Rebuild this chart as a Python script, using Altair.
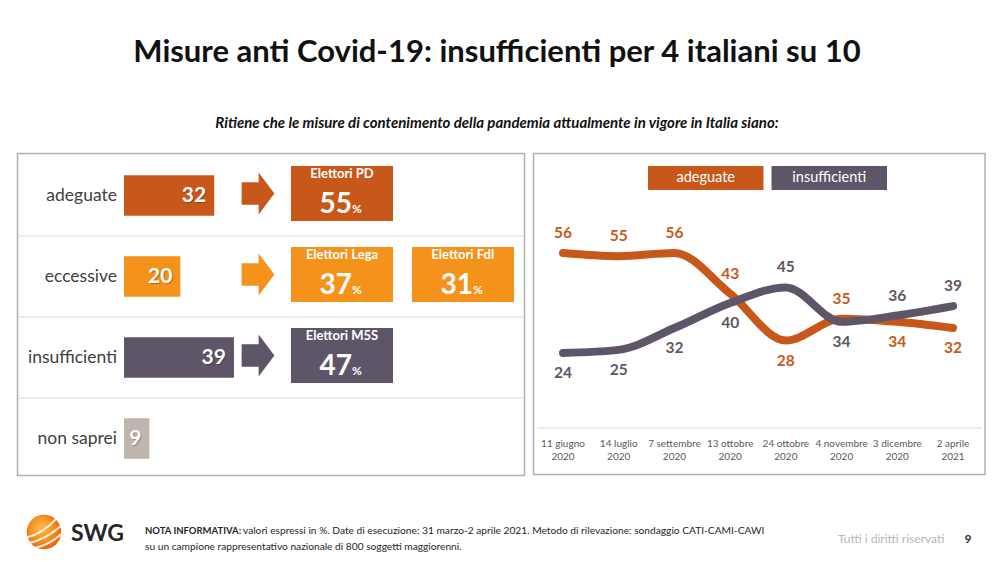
import altair as alt
import pandas as pd

# ---------------- data ----------------
rows = ["adeguate", "eccessive", "insufficienti", "non saprei"]
row_values = [32, 20, 39, 9]
row_colors = ["#C8581A", "#F5921B", "#5E5668", "#BEB5AD"]

party_names = ["Elettori PD", "Elettori Lega", "Elettori FdI", "Elettori M5S"]
party_values = [55, 37, 31, 47]
party_rows = ["adeguate", "eccessive", "eccessive", "insufficienti"]
party_slots = ["primo", "primo", "secondo", "primo"]
slots = ["primo", "secondo"]

dates = ["11 giugno\n2020", "14 luglio\n2020", "7 settembre\n2020", "13 ottobre\n2020",
         "24 ottobre\n2020", "4 novembre\n2020", "3 dicembre\n2020", "2 aprile\n2021"]
series = ["adeguate", "insufficienti"]
series_colors = ["#C8581A", "#5E5668"]
adeguate_trend = [56, 55, 56, 43, 28, 35, 34, 32]
insufficienti_trend = [24, 25, 32, 40, 45, 34, 36, 39]

title_text = "Misure anti Covid-19: insufficienti per 4 italiani su 10"
subtitle_text = "Ritiene che le misure di contenimento della pandemia attualmente in vigore in Italia siano:"
note_bold = "NOTA INFORMATIVA:"
note_line1 = "valori espressi in %. Date di esecuzione: 31 marzo-2 aprile 2021. Metodo di rilevazione: sondaggio CATI-CAMI-CAWI"
note_line2 = "su un campione rappresentativo nazionale di 800 soggetti maggiorenni."
rights_text = "Tutti i diritti riservati"
page_number = "9"
brand = "SWG"

# ---------------- tables ----------------
rows_df = pd.DataFrame({"row": rows, "value": row_values, "idx": list(range(len(rows)))})
party_df = pd.DataFrame({"name": party_names, "value": party_values,
                         "row": party_rows, "slot": party_slots})
trend_df = pd.concat([
    pd.DataFrame({"date": dates, "idx": list(range(len(dates))), "series": s, "value": v})
    for s, v in zip(series, [adeguate_trend, insufficienti_trend])
], ignore_index=True)
dates_df = pd.DataFrame({"date": dates})
series_df = pd.DataFrame({"series": series})
one = pd.DataFrame({"k": [0]})

FONT = "Lato"
W, H = 978, 546

# ---------------- scales (pixel ranges in chart coordinates) ----------------
bar_x = alt.Scale(domain=[0, 100], range=[116, 398])
row_y = alt.Scale(type="band", domain=rows, range=[147, 471], paddingInner=0.5, paddingOuter=0.25)
box_y = alt.Scale(type="band", domain=rows, range=[137.75, 476.25], paddingInner=0.321, paddingOuter=0.25)
slot_x = alt.Scale(type="band", domain=slots, range=[283, 506], paddingInner=0.157, paddingOuter=0)
row_color = alt.Scale(domain=rows, range=row_colors)
date_x = alt.Scale(type="point", domain=dates, range=[555, 945], padding=0)
trend_y = alt.Scale(domain=[0, 60], range=[420, 232.5])
series_x = alt.Scale(type="band", domain=series, range=[640, 879], paddingInner=0.065, paddingOuter=0)
series_color = alt.Scale(domain=series, range=series_colors)

ARROW = "M-0.78,-0.54L0.03,-0.54L0.03,-1L0.78,0L0.03,1L0.03,0.54L-0.78,0.54Z"
STRIPES = ("M-0.95,0.3Q-0.1,0.1 0.7,-0.75M-0.85,0.62Q0.1,0.4 0.95,-0.35"
           "M-0.55,0.9Q0.3,0.72 0.98,0.1")

base_rows = alt.Chart(rows_df)
base_party = alt.Chart(party_df)
base_one = alt.Chart(one)

# frames
frame_left = base_one.mark_rect(fill="white", stroke="#B0B0B0", strokeWidth=1.5).encode(
    x=alt.value(9.5), x2=alt.value(516.5), y=alt.value(145.5), y2=alt.value(467.5))
frame_right = base_one.mark_rect(fill="white", stroke="#B0B0B0", strokeWidth=1.5).encode(
    x=alt.value(525.5), x2=alt.value(977), y=alt.value(145.5), y2=alt.value(466.5))

separators = base_rows.transform_filter("datum.idx > 0").mark_rule(
    color="#DADADA", strokeWidth=1.2, yOffset=-20.25).encode(
    y=alt.Y("row:N", scale=row_y, axis=None, bandPosition=0),
    x=alt.value(10), x2=alt.value(516))

bars = base_rows.mark_bar().encode(
    x=alt.X("value:Q", scale=bar_x, axis=None),
    y=alt.Y("row:N", scale=row_y, axis=None),
    color=alt.Color("row:N", scale=row_color, legend=None))

bar_shadow = base_rows.mark_text(align="right", dx=-7, dy=1.5, baseline="middle", font=FONT,
                                 fontSize=21, fontWeight="bold", color="#000000", opacity=0.25).encode(
    x=alt.X("value:Q", scale=bar_x, axis=None),
    y=alt.Y("row:N", scale=row_y, axis=None, bandPosition=0.5),
    text="value:Q")
bar_text = base_rows.mark_text(align="right", dx=-8, baseline="middle", font=FONT,
                               fontSize=21, fontWeight="bold", color="white").encode(
    x=alt.X("value:Q", scale=bar_x, axis=None),
    y=alt.Y("row:N", scale=row_y, axis=None, bandPosition=0.5),
    text="value:Q")

row_labels = base_rows.mark_text(align="right", dx=-7, baseline="middle", font=FONT,
                                 fontSize=17.5, color="#404040").encode(
    x=alt.XDatum(0, type="quantitative", scale=bar_x, axis=None),
    y=alt.Y("row:N", scale=row_y, axis=None, bandPosition=0.5),
    text="row:N")

arrows = base_party.transform_filter("datum.slot == 'primo'").mark_point(
    shape=ARROW, size=1764, filled=True, opacity=1, xOffset=-84).encode(
    x=alt.X("slot:N", scale=slot_x, axis=None, bandPosition=0.5),
    y=alt.Y("row:N", scale=box_y, axis=None, bandPosition=0.5),
    color=alt.Color("row:N", scale=row_color, legend=None))

boxes = base_party.mark_rect().encode(
    x=alt.X("slot:N", scale=slot_x, axis=None),
    y=alt.Y("row:N", scale=box_y, axis=None),
    color=alt.Color("row:N", scale=row_color, legend=None))

box_names = base_party.mark_text(dy=-19.5, baseline="middle", font=FONT, fontSize=13,
                                 fontWeight="bold", color="white").encode(
    x=alt.X("slot:N", scale=slot_x, axis=None, bandPosition=0.5),
    y=alt.Y("row:N", scale=box_y, axis=None, bandPosition=0.5),
    text="name:N")
box_values = base_party.mark_text(align="right", dx=10, dy=19.5, baseline="alphabetic", font=FONT,
                                  fontSize=28, fontWeight="bold", color="white").encode(
    x=alt.X("slot:N", scale=slot_x, axis=None, bandPosition=0.5),
    y=alt.Y("row:N", scale=box_y, axis=None, bandPosition=0.5),
    text="value:Q")
box_pct = base_party.mark_text(align="left", dx=10, dy=19.5, baseline="alphabetic", font=FONT,
                               fontSize=12, fontWeight="bold", color="white").encode(
    x=alt.X("slot:N", scale=slot_x, axis=None, bandPosition=0.5),
    y=alt.Y("row:N", scale=box_y, axis=None, bandPosition=0.5),
    text=alt.value("%"))

# right panel
legend_boxes = alt.Chart(series_df).mark_rect().encode(
    x=alt.X("series:N", scale=series_x, axis=None),
    y=alt.value(158), y2=alt.value(182),
    color=alt.Color("series:N", scale=series_color, legend=None))
legend_text = alt.Chart(series_df).mark_text(baseline="middle", font=FONT, fontSize=14.5,
                                             color="white").encode(
    x=alt.X("series:N", scale=series_x, axis=None, bandPosition=0.5),
    y=alt.value(170), text="series:N")

baseline = base_one.mark_rule(color="#D9D9D9", strokeWidth=1).encode(
    y=alt.YDatum(0, type="quantitative", scale=trend_y, axis=None),
    x=alt.value(529), x2=alt.value(974))

lines = alt.Chart(trend_df).mark_line(strokeWidth=8, interpolate="monotone", strokeCap="round").encode(
    x=alt.X("date:N", scale=date_x, axis=None),
    y=alt.Y("value:Q", scale=trend_y, axis=None),
    color=alt.Color("series:N", scale=series_color, legend=None),
    order="idx:Q")

label_base = alt.Chart(trend_df).transform_joinaggregate(top="max(value)", groupby=["date"])
labels_top = label_base.transform_filter("datum.value == datum.top").mark_text(
    dy=-20, baseline="middle", font=FONT, fontSize=15.5, fontWeight="bold").encode(
    x=alt.X("date:N", scale=date_x, axis=None),
    y=alt.Y("value:Q", scale=trend_y, axis=None),
    color=alt.Color("series:N", scale=series_color, legend=None),
    text="value:Q")
labels_bottom = label_base.transform_filter("datum.value < datum.top").mark_text(
    dy=20, baseline="middle", font=FONT, fontSize=15.5, fontWeight="bold").encode(
    x=alt.X("date:N", scale=date_x, axis=None),
    y=alt.Y("value:Q", scale=trend_y, axis=None),
    color=alt.Color("series:N", scale=series_color, legend=None),
    text="value:Q")

date_labels = alt.Chart(dates_df).mark_text(baseline="top", dy=11, lineBreak="\n", font=FONT,
                                            fontSize=10, lineHeight=12.5, color="#595959").encode(
    x=alt.X("date:N", scale=date_x, axis=None),
    y=alt.YDatum(0, type="quantitative", scale=trend_y, axis=None),
    text="date:N")

# titles
title = base_one.mark_text(align="center", baseline="alphabetic", font=FONT, fontSize=31,
                           fontWeight="bold", color="#111111").encode(
    x=alt.value(489), y=alt.value(54), text=alt.value(title_text))
subtitle = base_one.mark_text(align="center", baseline="alphabetic", font=FONT, fontSize=15,
                              fontWeight="bold", fontStyle="italic", color="#111111").encode(
    x=alt.value(489), y=alt.value(120), text=alt.value(subtitle_text))

# footer
logo = base_one.mark_point(shape="circle", size=1195, filled=True, opacity=1, strokeWidth=0,
                           fill={"gradient": "radial",
                                 "stops": [{"offset": 0, "color": "#FDBA55"},
                                           {"offset": 0.55, "color": "#F7931E"},
                                           {"offset": 1, "color": "#E2600E"}],
                                 "x1": 0.4, "y1": 0.35, "r1": 0, "x2": 0.45, "y2": 0.45, "r2": 0.6}).encode(
    x=alt.value(36), y=alt.value(524))
logo_stripes = base_one.mark_point(shape=STRIPES, size=1300, filled=False, opacity=0.85,
                                   stroke="white", strokeWidth=2).encode(
    x=alt.value(36), y=alt.value(524))
brand_text = base_one.mark_text(align="left", baseline="alphabetic", font=FONT, fontSize=23,
                                fontWeight="bold", color="#262626").encode(
    x=alt.value(63), y=alt.value(533), text=alt.value(brand))
note_b = base_one.mark_text(align="left", baseline="alphabetic", font=FONT, fontSize=9.5,
                            fontWeight="bold", color="#262626").encode(
    x=alt.value(137), y=alt.value(525.5), text=alt.value(note_bold))
note_1 = base_one.mark_text(align="left", baseline="alphabetic", font=FONT, fontSize=10.2,
                            color="#262626").encode(
    x=alt.value(235), y=alt.value(525.5), text=alt.value(note_line1))
note_2 = base_one.mark_text(align="left", baseline="alphabetic", font=FONT, fontSize=10.2,
                            color="#262626").encode(
    x=alt.value(137), y=alt.value(541.5), text=alt.value(note_line2))
rights = base_one.mark_text(align="left", baseline="alphabetic", font=FONT, fontSize=12,
                            color="#B5B5B5").encode(
    x=alt.value(830), y=alt.value(535), text=alt.value(rights_text))
page = base_one.mark_text(align="center", baseline="alphabetic", font=FONT, fontSize=11.5,
                          fontWeight="bold", color="#262626").encode(
    x=alt.value(960), y=alt.value(535), text=alt.value(page_number))

chart = alt.layer(
    frame_left, frame_right, separators,
    bars, bar_shadow, bar_text, row_labels,
    arrows, boxes, box_names, box_values, box_pct,
    legend_boxes, legend_text, baseline, lines, labels_top, labels_bottom, date_labels,
    title, subtitle, logo, logo_stripes, brand_text, note_b, note_1, note_2, rights, page,
).resolve_scale(
    x="independent", y="independent", color="independent"
).properties(
    width=W, height=H, padding=0, autosize=alt.AutoSizeParams(type="none")
).configure_view(stroke=None)

chart.save("out.html", embed_options={"renderer": "svg", "actions": False})
